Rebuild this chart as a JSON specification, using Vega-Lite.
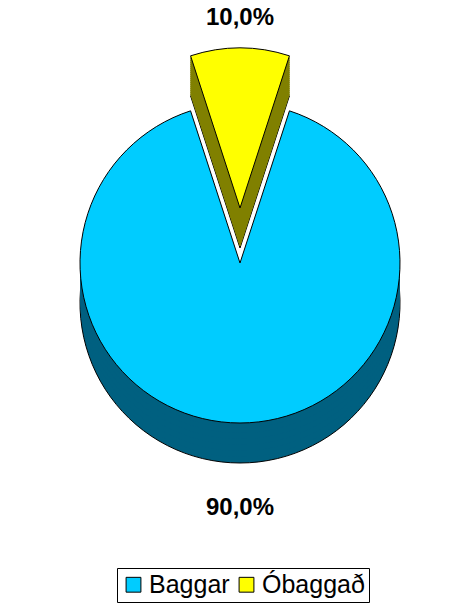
{
  "$schema": "https://vega.github.io/schema/vega-lite/v6.json",
  "width": 480,
  "height": 526,
  "padding": 0,
  "background": "white",
  "config": {"view": {"stroke": null}},
  "data": {"values": [
    {"cat": "Baggar", "value": 90, "label": "90,0%"},
    {"cat": "Óbaggað", "value": 10, "label": "10,0%"}
  ]},
  "encoding": {
    "theta": {"field": "value", "type": "quantitative", "stack": true, "scale": {"range": [0.31416, 6.59734]}},
    "order": {"field": "cat", "type": "ordinal", "sort": "ascending"}
  },
  "layer": [
    {"mark": {"type": "arc", "radius": 160, "yOffset": 40, "stroke": "black", "strokeWidth": 1},
     "encoding": {"fill": {"value": "#006080"}, "opacity": {"condition": {"test": "datum.cat==='Baggar'", "value": 1}, "value": 0}}},
    {"mark": {"type": "arc", "radius": 160, "yOffset": 34},
     "encoding": {"fill": {"value": "#006080"}, "opacity": {"condition": {"test": "datum.cat==='Baggar'", "value": 1}, "value": 0}}},
    {"mark": {"type": "arc", "radius": 160, "yOffset": 28},
     "encoding": {"fill": {"value": "#006080"}, "opacity": {"condition": {"test": "datum.cat==='Baggar'", "value": 1}, "value": 0}}},
    {"mark": {"type": "arc", "radius": 160, "yOffset": 22},
     "encoding": {"fill": {"value": "#006080"}, "opacity": {"condition": {"test": "datum.cat==='Baggar'", "value": 1}, "value": 0}}},
    {"mark": {"type": "arc", "radius": 160, "yOffset": 16},
     "encoding": {"fill": {"value": "#006080"}, "opacity": {"condition": {"test": "datum.cat==='Baggar'", "value": 1}, "value": 0}}},
    {"mark": {"type": "arc", "radius": 160, "yOffset": 10},
     "encoding": {"fill": {"value": "#006080"}, "opacity": {"condition": {"test": "datum.cat==='Baggar'", "value": 1}, "value": 0}}},
    {"mark": {"type": "arc", "radius": 160, "yOffset": 5},
     "encoding": {"fill": {"value": "#006080"}, "opacity": {"condition": {"test": "datum.cat==='Baggar'", "value": 1}, "value": 0}}},
    {"mark": {"type": "arc", "radius": 160, "yOffset": -15, "stroke": "black", "strokeWidth": 1},
     "encoding": {"fill": {"value": "#808000"}, "opacity": {"condition": {"test": "datum.cat==='Óbaggað'", "value": 1}, "value": 0}}},
    {"mark": {"type": "arc", "radius": 160, "yOffset": -17, "stroke": "#808000", "strokeWidth": 1},
     "encoding": {"fill": {"value": "#808000"}, "opacity": {"condition": {"test": "datum.cat==='Óbaggað'", "value": 1}, "value": 0}}},
    {"mark": {"type": "arc", "radius": 160, "yOffset": -19, "stroke": "#808000", "strokeWidth": 1},
     "encoding": {"fill": {"value": "#808000"}, "opacity": {"condition": {"test": "datum.cat==='Óbaggað'", "value": 1}, "value": 0}}},
    {"mark": {"type": "arc", "radius": 160, "yOffset": -21, "stroke": "#808000", "strokeWidth": 1},
     "encoding": {"fill": {"value": "#808000"}, "opacity": {"condition": {"test": "datum.cat==='Óbaggað'", "value": 1}, "value": 0}}},
    {"mark": {"type": "arc", "radius": 160, "yOffset": -23, "stroke": "#808000", "strokeWidth": 1},
     "encoding": {"fill": {"value": "#808000"}, "opacity": {"condition": {"test": "datum.cat==='Óbaggað'", "value": 1}, "value": 0}}},
    {"mark": {"type": "arc", "radius": 160, "yOffset": -25, "stroke": "#808000", "strokeWidth": 1},
     "encoding": {"fill": {"value": "#808000"}, "opacity": {"condition": {"test": "datum.cat==='Óbaggað'", "value": 1}, "value": 0}}},
    {"mark": {"type": "arc", "radius": 160, "yOffset": -27, "stroke": "#808000", "strokeWidth": 1},
     "encoding": {"fill": {"value": "#808000"}, "opacity": {"condition": {"test": "datum.cat==='Óbaggað'", "value": 1}, "value": 0}}},
    {"mark": {"type": "arc", "radius": 160, "yOffset": -29, "stroke": "#808000", "strokeWidth": 1},
     "encoding": {"fill": {"value": "#808000"}, "opacity": {"condition": {"test": "datum.cat==='Óbaggað'", "value": 1}, "value": 0}}},
    {"mark": {"type": "arc", "radius": 160, "yOffset": -31, "stroke": "#808000", "strokeWidth": 1},
     "encoding": {"fill": {"value": "#808000"}, "opacity": {"condition": {"test": "datum.cat==='Óbaggað'", "value": 1}, "value": 0}}},
    {"mark": {"type": "arc", "radius": 160, "yOffset": -33, "stroke": "#808000", "strokeWidth": 1},
     "encoding": {"fill": {"value": "#808000"}, "opacity": {"condition": {"test": "datum.cat==='Óbaggað'", "value": 1}, "value": 0}}},
    {"mark": {"type": "arc", "radius": 160, "yOffset": -35, "stroke": "#808000", "strokeWidth": 1},
     "encoding": {"fill": {"value": "#808000"}, "opacity": {"condition": {"test": "datum.cat==='Óbaggað'", "value": 1}, "value": 0}}},
    {"mark": {"type": "arc", "radius": 160, "yOffset": -37, "stroke": "#808000", "strokeWidth": 1},
     "encoding": {"fill": {"value": "#808000"}, "opacity": {"condition": {"test": "datum.cat==='Óbaggað'", "value": 1}, "value": 0}}},
    {"mark": {"type": "arc", "radius": 160, "yOffset": -39, "stroke": "#808000", "strokeWidth": 1},
     "encoding": {"fill": {"value": "#808000"}, "opacity": {"condition": {"test": "datum.cat==='Óbaggað'", "value": 1}, "value": 0}}},
    {"mark": {"type": "arc", "radius": 160, "yOffset": -41, "stroke": "#808000", "strokeWidth": 1},
     "encoding": {"fill": {"value": "#808000"}, "opacity": {"condition": {"test": "datum.cat==='Óbaggað'", "value": 1}, "value": 0}}},
    {"mark": {"type": "arc", "radius": 160, "yOffset": -43, "stroke": "#808000", "strokeWidth": 1},
     "encoding": {"fill": {"value": "#808000"}, "opacity": {"condition": {"test": "datum.cat==='Óbaggað'", "value": 1}, "value": 0}}},
    {"mark": {"type": "arc", "radius": 160, "yOffset": -45, "stroke": "#808000", "strokeWidth": 1},
     "encoding": {"fill": {"value": "#808000"}, "opacity": {"condition": {"test": "datum.cat==='Óbaggað'", "value": 1}, "value": 0}}},
    {"mark": {"type": "arc", "radius": 160, "yOffset": -47, "stroke": "#808000", "strokeWidth": 1},
     "encoding": {"fill": {"value": "#808000"}, "opacity": {"condition": {"test": "datum.cat==='Óbaggað'", "value": 1}, "value": 0}}},
    {"mark": {"type": "arc", "radius": 160, "yOffset": -49, "stroke": "#808000", "strokeWidth": 1},
     "encoding": {"fill": {"value": "#808000"}, "opacity": {"condition": {"test": "datum.cat==='Óbaggað'", "value": 1}, "value": 0}}},
    {"mark": {"type": "arc", "radius": 160, "yOffset": -51, "stroke": "#808000", "strokeWidth": 1},
     "encoding": {"fill": {"value": "#808000"}, "opacity": {"condition": {"test": "datum.cat==='Óbaggað'", "value": 1}, "value": 0}}},
    {"mark": {"type": "arc", "radius": 160, "yOffset": -53, "stroke": "#808000", "strokeWidth": 1},
     "encoding": {"fill": {"value": "#808000"}, "opacity": {"condition": {"test": "datum.cat==='Óbaggað'", "value": 1}, "value": 0}}},
    {"mark": {"type": "arc", "radius": 160, "yOffset": -55, "stroke": "black", "strokeWidth": 1},
     "encoding": {
       "color": {"field": "cat", "type": "nominal", "scale": {"domain": ["Baggar", "Óbaggað"], "range": ["#00CCFF", "#FFFF00"]},
         "legend": {"orient": "none", "legendX": 117, "legendY": 568, "direction": "horizontal", "title": null,
           "strokeColor": "black", "padding": 4, "symbolType": "square", "symbolSize": 220, "symbolStrokeColor": "black",
           "symbolStrokeWidth": 1, "symbolOpacity": 1, "labelFont": "Liberation Sans", "labelFontSize": 25, "labelColor": "black",
           "labelOffset": 3, "columnPadding": 4}},
       "opacity": {"condition": {"test": "datum.cat==='Óbaggað'", "value": 1}, "value": 0}}},
    {"mark": {"type": "arc", "radius": 160, "stroke": "black", "strokeWidth": 1},
     "encoding": {
       "color": {"field": "cat", "type": "nominal"},
       "opacity": {"condition": {"test": "datum.cat==='Baggar'", "value": 1}, "value": 0}}},
    {"mark": {"type": "text", "font": "Liberation Sans", "fontWeight": "bold", "fontSize": 24, "color": "black"},
     "encoding": {
       "text": {"field": "label"},
       "radius": {"condition": {"test": "datum.cat==='Baggar'", "value": 224}, "value": 245}}}
  ]
}
